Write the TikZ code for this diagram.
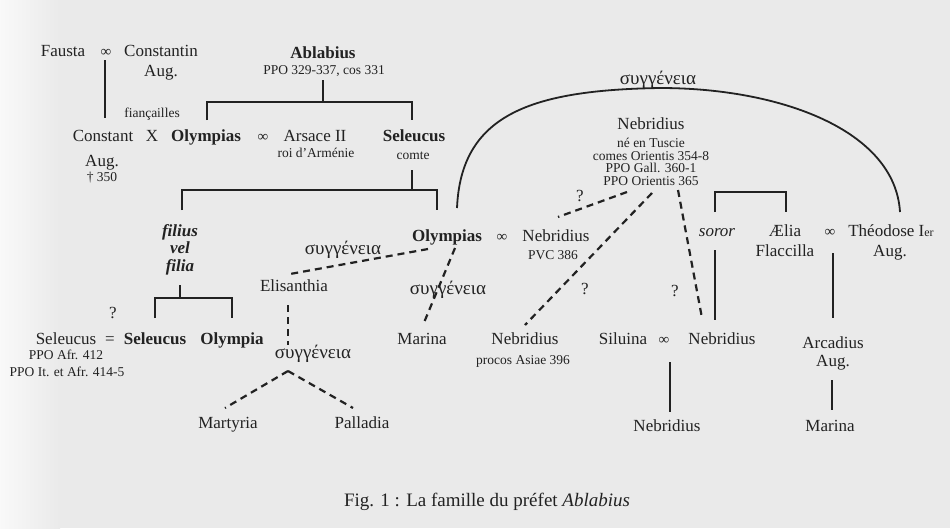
\documentclass[tikz,border=0pt]{standalone}
\usepackage{fontspec}
\setmainfont{Liberation Serif}
\definecolor{ink}{HTML}{222222}
\definecolor{paper}{HTML}{EAEAEA}
\newcommand\fsz[1]{\fontsize{#1}{#1}\selectfont}
\begin{document}
\begin{tikzpicture}[x=1pt,y=-1pt,
  nm/.style={anchor=base,inner sep=0pt,text=ink,font=\fsz{17}},
  bnm/.style={anchor=base,inner sep=0pt,text=ink,font=\fsz{17}\bfseries},
  bit/.style={anchor=base,inner sep=0pt,text=ink,font=\fsz{17}\bfseries\itshape},
  itn/.style={anchor=base,inner sep=0pt,text=ink,font=\fsz{17}\itshape},
  sm/.style={anchor=base,inner sep=0pt,text=ink,font=\fsz{13.5}},
  inf/.style={anchor=base,inner sep=0pt,text=ink,font=\fsz{15}},
  gk/.style={anchor=base,inner sep=0pt,text=ink,font=\fsz{19}},
  ln/.style={draw=ink,line width=1.8pt},
  dl/.style={draw=ink,line width=2.2pt,dash pattern=on 7pt off 5pt},
]
\fill[paper] (0,0) rectangle (950,528);
\shade[left color=white!70!paper,right color=paper] (0,0) rectangle (60,528);
\useasboundingbox (0,0) rectangle (950,528);

% row 1
\node[nm] (fausta) at (63,56) {Fausta};
\node[inf] (m1) at (106,56) {∞};
\node[nm] (constantin) at (161,56) {Constantin};
\node[nm] (aug1) at (161,76) {Aug.};
\node[bnm] (ablabius) at (323,58) {Ablabius};
\node[sm] (ppo1) at (324,74.5) {PPO 329-337, cos 331};

\node[sm] (fianc) at (152,117) {fiançailles};

% row 2
\node[nm] (constant) at (103,141) {Constant};
\node[nm] (x) at (152,141) {X};
\node[bnm] (olympias1) at (206,141) {Olympias};
\node[inf] (m2) at (263,141) {∞};
\node[nm] (arsace) at (315,141) {Arsace II};
\node[bnm] (seleucus1) at (414,141) {Seleucus};
\node[nm] (aug2) at (102,166) {Aug.};
\node[sm] (dag) at (102,181.5) {† 350};
\node[sm] (roi) at (316,157.5) {roi d'Arménie};
\node[sm] (comte) at (413,159.5) {comte};

% filius vel filia
\node[bit] (filius) at (180,236) {filius};
\node[bit] (vel) at (180,253) {vel};
\node[bit] (filia) at (180,271) {filia};

% row Seleucus
\node[nm] (q4) at (113,318) {?};
\node[nm] (seleucus2) at (66,344) {Seleucus};
\node[nm] (eq) at (110,344) {=};
\node[bnm] (seleucus3) at (155,344) {Seleucus};
\node[bnm] (olympia) at (232,344) {Olympia};
\node[sm] (ppo2) at (66,359.5) {PPO Afr. 412};
\node[sm] (ppo3) at (67,376.5) {PPO It. et Afr. 414-5};

% Nebridius top
\node[gk] (g1) at (658,84) {συγγένεια};
\node[nm] (nebr1) at (651,129) {Nebridius};
\node[sm] (nt1) at (651,147.5) {né en Tuscie};
\node[sm] (nt2) at (651,160) {comes Orientis 354-8};
\node[sm] (nt3) at (651,172.5) {PPO Gall. 360-1};
\node[sm] (nt4) at (651,185) {PPO Orientis 365};
\node[nm] (q1) at (580,201) {?};

% Olympias row
\node[bnm] (olympias2) at (447,241) {Olympias};
\node[inf] (m3) at (502,241) {∞};
\node[nm] (nebr2) at (556,241) {Nebridius};
\node[sm] (pvc) at (553,259.5) {PVC 386};
\node[gk] (g2) at (343,254) {συγγένεια};
\node[nm] (elis) at (294,291) {Elisanthia};
\node[gk] (g3) at (448,294) {συγγένεια};
\node[nm] (q2) at (585,294) {?};
\node[nm] (q3) at (675,296) {?};

% soror / Aelia / Theodose
\node[itn] (soror) at (717,236) {soror};
\node[nm] (aelia) at (785,236) {Ælia};
\node[inf] (m5) at (830,236) {∞};
\node[nm] (theod) at (891,236) {Théodose I{\fsz{12}er}};
\node[nm] (flacc) at (785,256) {Flaccilla};
\node[nm] (aug3) at (890,256) {Aug.};

% lower row
\node[nm] (marina1) at (422,344) {Marina};
\node[nm] (nebr3) at (525,344) {Nebridius};
\node[sm] (procos) at (523,364.5) {procos Asiae 396};
\node[nm] (siluina) at (623,344) {Siluina};
\node[inf] (m4) at (664,344) {∞};
\node[nm] (nebr4) at (722,344) {Nebridius};
\node[nm] (arcad) at (833,348) {Arcadius};
\node[nm] (aug4) at (833,366) {Aug.};
\node[gk] (g4) at (313,358) {συγγένεια};
\node[nm] (martyria) at (228,428) {Martyria};
\node[nm] (palladia) at (362,428) {Palladia};
\node[nm] (nebr5) at (667,431) {Nebridius};
\node[nm] (marina2) at (830,431) {Marina};

\node[anchor=base,inner sep=0pt,text=ink,font=\fsz{19}] (caption) at (487,506) {Fig. 1 : La famille du préfet \textit{Ablabius}};

% coordinates
\coordinate (c1a) at (105,60);   \coordinate (c1b) at (105,118);
\coordinate (c2a) at (323,80);   \coordinate (c2b) at (323,102);
\coordinate (c2l) at (207,120);  \coordinate (c2r) at (412,120);
\coordinate (c3a) at (412,170);  \coordinate (c3b) at (412,190);
\coordinate (c3l) at (182,210);  \coordinate (c3r) at (437,210);
\coordinate (c4a) at (180,285);  \coordinate (c4b) at (180,298);
\coordinate (c4l) at (155,318);  \coordinate (c4r) at (232,318);
\coordinate (c5l) at (715,212);  \coordinate (c5r) at (786,212);
\coordinate (c5t) at (715,192);
\coordinate (j) at (288,371);

% solid lines
\draw[ln] (c1a) -- (c1b);
\draw[ln] (c2a) -- (c2b);
\draw[ln] (c2l) |- (c2b) -| (c2r);
\draw[ln] (c3a) -- (c3b);
\draw[ln] (c3l) |- (c3b) -| (c3r);
\draw[ln] (c4a) -- (c4b);
\draw[ln] (c4l) |- (c4b) -| (c4r);
\draw[ln] (c5l) |- (c5t) -| (c5r);
\draw[ln] (715,250) -- (715,320);
\draw[ln] (833,253) -- (833,318);
\draw[ln] (670,362) -- (670,412);
\draw[ln] (832,380) -- (832,410);

% arc
\draw[ln] (457,208) .. controls (461,115) and (530,90) .. (660,88)
                    .. controls (780,88) and (895,130) .. (900,212);

% dashed
\draw[dl] (428,249) -- (290,274);
\draw[dl] (455,248) -- (423,325);
\draw[dl] (627,192) -- (558,217);
\draw[dl] (652,193) -- (525,325);
\draw[dl] (678,190) -- (702,318);
\draw[dl] (288,305) -- (288,345);
\draw[dl] (j) -- (225,408);
\draw[dl] (j) -- (353,408);
\end{tikzpicture}
\end{document}
